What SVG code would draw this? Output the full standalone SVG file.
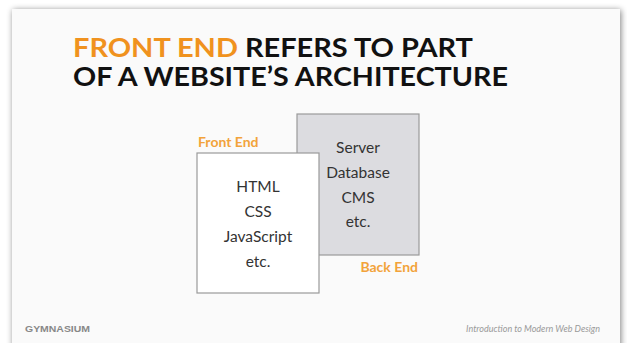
<svg xmlns="http://www.w3.org/2000/svg" width="627" height="343" viewBox="0 0 627 343">
<defs>
<filter id="sh" x="-5%" y="-5%" width="110%" height="110%">
<feGaussianBlur in="SourceAlpha" stdDeviation="3"/>
<feOffset dx="1" dy="1"/>
<feComponentTransfer><feFuncA type="linear" slope="0.5"/></feComponentTransfer>
<feMerge><feMergeNode/><feMergeNode in="SourceGraphic"/></feMerge>
</filter>
</defs>
<style>
.title{font-family:Lato,"Liberation Sans",Arial,sans-serif;font-weight:bold;font-size:27px;fill:#111}
.or{fill:#f0921e}
.lbl{font-family:Lato,"Liberation Sans",Arial,sans-serif;font-weight:bold;font-size:14px;fill:#f2a33a}
.item{font-family:Lato,"Liberation Sans",Arial,sans-serif;font-size:15.5px;fill:#333;text-anchor:middle}
.box{stroke:#9a9a9a;stroke-width:1.2}
</style>
<rect x="0" y="0" width="627" height="343" fill="#ffffff"/>
<rect x="12" y="9" width="608" height="345" fill="#fafafa" filter="url(#sh)"/>
<text class="title" x="73" y="57" textLength="400" lengthAdjust="spacingAndGlyphs"><tspan class="or">FRONT END</tspan> REFERS TO PART</text>
<text class="title" x="73" y="86" textLength="435" lengthAdjust="spacingAndGlyphs">OF A WEBSITE’S ARCHITECTURE</text>
<g id="back-end">
<rect class="box" x="297" y="114" width="122" height="141" fill="#dcdce0"/>
<text class="item" x="358" y="153">Server</text>
<text class="item" x="358" y="178">Database</text>
<text class="item" x="358" y="203">CMS</text>
<text class="item" x="358" y="227">etc.</text>
<text class="lbl" x="418" y="272" text-anchor="end">Back End</text>
</g>
<g id="front-end">
<rect class="box" x="197" y="153" width="122" height="140" fill="#ffffff"/>
<text class="item" x="258" y="192">HTML</text>
<text class="item" x="258" y="217">CSS</text>
<text class="item" x="258" y="242">JavaScript</text>
<text class="item" x="258" y="267">etc.</text>
<text class="lbl" x="198" y="147">Front End</text>
</g>
<g id="connectors"></g>
<text x="25" y="332" font-family="'Liberation Sans',Arial,sans-serif" font-weight="bold" font-size="8.5" fill="#888" textLength="65" lengthAdjust="spacingAndGlyphs">GYMNASIUM</text>
<text x="600" y="332" font-family="Lato,'Liberation Sans',Arial,sans-serif" font-style="italic" font-size="9" fill="#999" text-anchor="end">Introduction to Modern Web Design</text>
</svg>
